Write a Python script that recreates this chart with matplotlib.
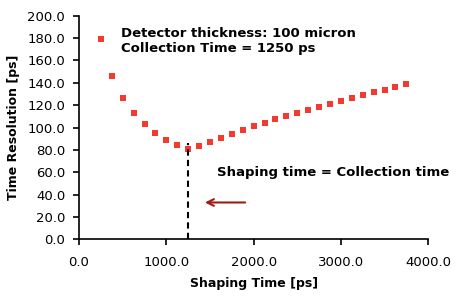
import matplotlib
matplotlib.use("Agg")
import matplotlib.pyplot as plt

# shaping time [ps] and time resolution [ps]
shaping_time = [250, 375, 500, 625, 750, 875, 1000, 1125, 1250, 1375, 1500, 1625,
                1750, 1875, 2000, 2125, 2250, 2375, 2500, 2625, 2750, 2875, 3000,
                3125, 3250, 3375, 3500, 3625, 3750]
time_resolution = [179, 146, 126.5, 113, 103, 95, 89, 84, 80.5, 83.5, 87, 91,
                   94.5, 98, 101.5, 104.5, 107.5, 110.5, 113, 116, 118.5, 121.5, 124,
                   126.5, 129, 132, 134, 136.5, 139]
collection_time = 1250

fig = plt.figure(figsize=(4.57, 2.97), dpi=100)
ax = fig.add_axes([0.173, 0.194, 0.764, 0.753])

ax.plot(shaping_time, time_resolution, linestyle="none", marker="s",
        markersize=5, color="#f4392e", markeredgewidth=0)

ax.plot([collection_time, collection_time], [0, 86], color="black",
        linestyle=(0, (3, 2)), linewidth=1.5)

ax.annotate("", xy=(1410, 33), xytext=(1935, 33),
            arrowprops=dict(arrowstyle="->", color="#a31a12", lw=1.5,
                            mutation_scale=12))

ax.text(0.12, 0.95, "Detector thickness: 100 micron\nCollection Time = 1250 ps",
        transform=ax.transAxes, fontsize=9.5, fontweight="bold", va="top",
        linespacing=1.25)
ax.text(0.395, 0.30, "Shaping time = Collection time", transform=ax.transAxes,
        fontsize=9.5, fontweight="bold", va="center")

ax.set_xlim(0, 4000)
ax.set_ylim(0, 200)
ax.set_xticks([0, 1000, 2000, 3000, 4000])
ax.set_yticks(range(0, 201, 20))
ax.xaxis.set_major_formatter(matplotlib.ticker.FormatStrFormatter("%.1f"))
ax.yaxis.set_major_formatter(matplotlib.ticker.FormatStrFormatter("%.1f"))
ax.tick_params(labelsize=9.5, direction="out", length=4, width=1.2)
ax.tick_params(axis="x", pad=8)
ax.tick_params(axis="y", pad=6)

for side in ["top", "right"]:
    ax.spines[side].set_visible(False)
for side in ["left", "bottom"]:
    ax.spines[side].set_linewidth(1.2)

ax.set_xlabel("Shaping Time [ps]", fontsize=9, fontweight="bold", labelpad=6)
ax.set_ylabel("Time Resolution [ps]", fontsize=9, fontweight="bold", labelpad=5)

fig.savefig("out.png", dpi=100)
